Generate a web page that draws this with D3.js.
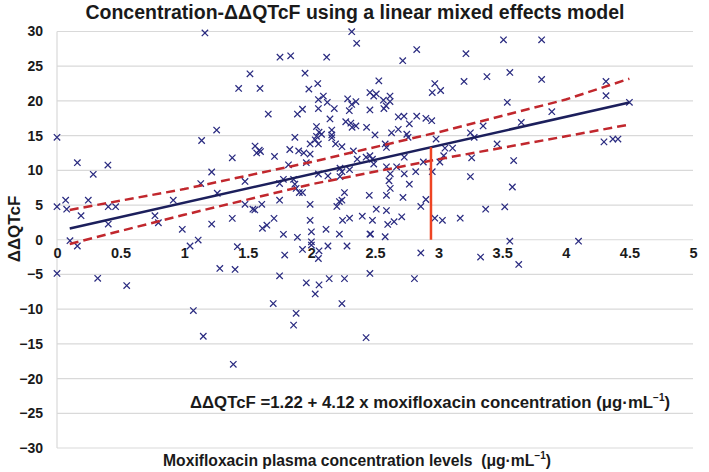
<!DOCTYPE html>
<html>
<head>
<meta charset="utf-8">
<script src="https://cdn.jsdelivr.net/npm/d3@7"></script>
<style>
  html, body { margin: 0; padding: 0; background: #ffffff; }
  svg { display: block; }
  text { font-family: "Liberation Sans", Arial, sans-serif; font-weight: bold; }
</style>
</head>
<body>
<svg id="chart" width="709" height="472"></svg>
<script>
// ---------- data ----------
const chartTitle = "Concentration-ΔΔQTcF using a linear mixed effects model";
const yAxisTitle = "ΔΔQTcF";
const xTickValues = [0, 0.5, 1, 1.5, 2, 2.5, 3, 3.5, 4, 4.5, 5];
const yTickValues = [30, 25, 20, 15, 10, 5, 0, -5, -10, -15, -20, -25, -30];

// observed points: concentration (µg/mL) and ΔΔQTcF (ms)
const pointX = [
  1.163,1.517,1.428,1.596,1.661,0,1.137,1.255,1.557,1.59,1.57,1.60,
  0.16,0.40,0.285,1.216,1.378,1.13,1.478,1.26,
  0,0.068,0.076,0.246,0.189,0.403,0.461,0.403,
  0.77,0.797,0.914,0.985,1.216,1.378,1.478,1.54,1.555,1.61,1.615,1.65,
  0.102,0.16,1.046,1.11,1.418,
  0,0.32,0.548,1.28,1.40,1.072,1.15,1.386,
  2.317,2.356,1.753,1.837,2.12,2.828,2.718,3.215,
  1.95,2.05,1.98,2.53,2.97,2.95,3.016,3.2,
  2.094,2.055,2.125,2.18,2.055,1.89,1.93,2.146,
  2.285,2.317,2.35,2.298,
  2.46,2.49,2.51,2.46,
  2.566,2.587,2.618,2.618,2.57,
  2.683,2.728,2.828,2.90,2.946,
  2.27,2.31,2.35,2.32,
  2.04,2.06,2.04,2.08,
  2.16,2.16,2.16,
  2.434,2.5,2.683,2.63,2.77,2.75,2.76,2.98,
  1.87,1.99,2.03,2.055,2.19,2.24,
  1.83,1.90,1.94,1.99,1.71,1.82,1.96,
  2.33,2.36,2.43,2.46,2.48,2.49,
  2.58,2.59,2.59,2.67,2.73,2.88,3.01,
  3.05,3.11,3.04,2.95,
  2.055,2.225,2.24,2.225,2.13,2.30,2.62,2.73,2.82,
  1.78,1.75,1.86,1.87,1.88,1.905,1.93,1.75,1.99,
  2.26,2.22,2.24,2.2,2.61,2.62,2.59,2.455,2.51,2.59,
  2.72,2.77,2.86,2.9,
  1.706,1.78,1.89,1.99,2.0,2.115,2.22,2.245,2.3,
  2.40,2.48,2.46,2.465,2.58,2.6,2.65,2.71,
  2.97,3.03,3.17,
  2.0,2.0,1.93,2.06,2.13,2.28,1.79,2.055,1.75,1.96,2.06,2.14,2.26,2.46,2.03,1.70,1.88,1.86,2.24,2.43,2.86,2.81,
  3.51,3.81,3.56,3.38,3.81,4.316,4.316,4.5,3.54,3.89,3.65,3.35,3.25,3.28,3.46,4.30,4.37,4.41,
  3.26,3.59,3.25,3.58,3.37,3.52,3.56,4.1,
  3.33,3.63
];
const pointY = [
  29.8,23.9,21.8,21.8,18.1,14.75,14.3,15.8,13.5,12.9,12.5,12.7,
  11.1,10.76,9.42,9.76,11.8,8.1,8.4,6.7,
  4.76,5.7,4.4,5.7,3.46,4.76,4.76,2.26,
  3.46,2.45,5.7,1.5,2.26,3.08,5.1,4.4,4.3,5.1,1.64,2.1,
  -0.14,-0.9,-0.9,-0.04,-1.0,
  -4.85,-5.56,-6.6,-4.13,-4.27,-10.2,-13.9,-17.95,
  29.97,28.3,26.3,26.5,26.3,27.4,25.8,26.8,
  24.0,22.5,21.7,22.9,22.5,21.2,21.5,22.8,
  20.7,20.2,19.8,18.9,18.9,18.1,18.8,17.4,
  20.3,19.5,19.9,18.6,
  21.2,20.7,21.0,18.7,
  20.1,19.3,20.7,19.9,18.9,
  17.7,17.8,17.8,17.5,17.15,
  17.0,16.8,16.4,16.2,
  16.3,15.5,14.9,15.2,
  15.8,15.1,14.7,
  16.2,15.1,15.9,15.4,16.7,15.2,14.75,14.5,
  14.75,13.8,14.4,13.8,13.8,13.4,
  13.0,12.8,12.5,12.35,12.0,10.8,11.1,
  12.8,11.6,11.9,12.1,11.6,10.9,
  13.8,13.3,10.5,10.5,11.9,11.2,11.2,
  13.2,13.2,12.1,9.8,
  9.47,10.3,9.8,9.1,9.2,10.1,9.5,9.5,9.8,
  8.7,8.1,8.7,8.0,7.4,6.8,6.8,5.7,5.1,
  6.8,5.5,5.7,4.8,8.5,7.4,6.4,6.4,4.4,4.2,
  6.1,8.0,4.8,5.8,
  3.08,0.78,0.35,2.8,1.15,1.5,0.82,2.8,3.1,
  3.4,2.8,0.82,0.82,0.43,2.2,2.6,3.3,
  3.1,2.8,3.1,
  -0.3,-0.76,-1.4,-1.6,-0.9,-0.9,-2.2,-2.7,-5.2,-6.2,-6.5,-5.6,-5.6,-4.85,-7.8,-9.2,-10.6,-12.3,-9.2,-14.1,-1.9,-5.6,
  28.8,28.8,24.1,23.5,23.1,22.8,20.75,19.8,19.8,18.45,16.9,16.4,15.4,14.75,13.8,14.1,14.5,14.5,
  11.8,11.4,9.1,7.6,4.4,4.75,-0.2,-0.2,
  -2.5,-3.55
];

// fitted line (ΔΔQTcF = 1.22 + 4.12 x conc) and its CI band
const fitX = [0.1, 4.5];
const fitY = [1.63, 19.76];
const ciX = [0.1, 1.0, 2.0, 3.0, 4.0, 4.5];
const ciUpper = [4.3, 7.3, 11.2, 15.5, 20.2, 23.2];
const ciLower = [-0.6, 3.6, 8.0, 11.6, 14.9, 16.6];

// vertical marker
const markerX = [2.94];
const markerY = [0, 13.33];

// ---------- drawing ----------
const svg = d3.select("#chart");
const x = d3.scaleLinear().domain([0, 5]).range([57, 693]);
const y = d3.scaleLinear().domain([-30, 30]).range([448, 31.5]);

// horizontal gridlines
svg.append("g").selectAll("line").data(yTickValues).join("line")
  .attr("x1", x(0)).attr("x2", x(5))
  .attr("y1", d => y(d)).attr("y2", d => y(d))
  .attr("stroke", "#d9d9d9").attr("stroke-width", 1.2);

// left axis line
svg.append("line")
  .attr("x1", x(0)).attr("x2", x(0))
  .attr("y1", y(30)).attr("y2", y(-30))
  .attr("stroke", "#d9d9d9").attr("stroke-width", 1.2);

// y tick labels
const yAxis = d3.axisLeft(y).tickValues(yTickValues).tickSize(0).tickPadding(0).tickFormat(d3.format("d"));
const gy = svg.append("g").attr("transform", "translate(43,0)").call(yAxis);
gy.select(".domain").remove();
gy.selectAll("text")
  .attr("font-family", "Liberation Sans, Arial, sans-serif")
  .attr("font-weight", "bold").attr("font-size", 14).attr("fill", "#1a1a1a");

// x tick labels, just below the zero line
const xAxis = d3.axisBottom(x).tickValues(xTickValues).tickSize(0).tickPadding(0).tickFormat(d => d3.format("")(d));
const gx = svg.append("g").attr("transform", `translate(0,${y(0) + 8})`).call(xAxis);
gx.select(".domain").remove();
gx.selectAll("text")
  .attr("font-family", "Liberation Sans, Arial, sans-serif")
  .attr("font-weight", "bold").attr("font-size", 14.5).attr("fill", "#1a1a1a")
  .attr("dy", "0.71em");

// scatter points ('x' markers)
const pts = pointX.map((v, i) => [v, pointY[i]]);
const s = 3.2;
svg.append("g").selectAll("path").data(pts).join("path")
  .attr("d", d => {
    const cx = x(d[0]), cy = y(d[1]);
    return `M${cx - s},${cy - s}L${cx + s},${cy + s}M${cx - s},${cy + s}L${cx + s},${cy - s}`;
  })
  .attr("stroke", "#2a2b80").attr("stroke-width", 1.25).attr("fill", "none");

// CI dashed lines
const line = d3.line().x(d => x(d[0])).y(d => y(d[1]));
[ciUpper, ciLower].forEach(arr => {
  svg.append("path")
    .datum(ciX.map((v, i) => [v, arr[i]]))
    .attr("d", line)
    .attr("fill", "none").attr("stroke", "#c1272d")
    .attr("stroke-width", 2.5).attr("stroke-dasharray", "9,5");
});

// regression line
svg.append("path")
  .datum(fitX.map((v, i) => [v, fitY[i]]))
  .attr("d", line)
  .attr("fill", "none").attr("stroke", "#1c1f5c").attr("stroke-width", 2.5);

// vertical marker line
svg.append("line")
  .attr("x1", x(markerX[0])).attr("x2", x(markerX[0]))
  .attr("y1", y(markerY[0])).attr("y2", y(markerY[1]))
  .attr("stroke", "#ee4423").attr("stroke-width", 2.5);

// title
svg.append("text").attr("x", 355).attr("y", 19).attr("text-anchor", "middle")
  .attr("font-size", 19.5).attr("fill", "#1a1a1a").text(chartTitle);

// y axis title
svg.append("text").attr("transform", "translate(20,229) rotate(-90)")
  .attr("text-anchor", "middle").attr("font-size", 17).attr("fill", "#1a1a1a").text(yAxisTitle);

// equation
const eq = svg.append("text").attr("x", 190).attr("y", 408).attr("font-size", 16.8).attr("fill", "#1a1a1a");
eq.append("tspan").text("ΔΔQTcF =1.22 + 4.12 x moxifloxacin concentration (μg·mL");
eq.append("tspan").attr("font-size", 10).attr("dy", -7).text("−1");
eq.append("tspan").attr("dy", 7).text(")");

// x axis title
const xt = svg.append("text").attr("x", 163).attr("y", 466).attr("font-size", 15.7).attr("fill", "#1a1a1a")
  .attr("style", "white-space:pre");
xt.append("tspan").text("Moxifloxacin plasma concentration levels  (μg·mL");
xt.append("tspan").attr("font-size", 10).attr("dy", -7).text("−1");
xt.append("tspan").attr("dy", 7).text(")");
</script>
</body>
</html>
